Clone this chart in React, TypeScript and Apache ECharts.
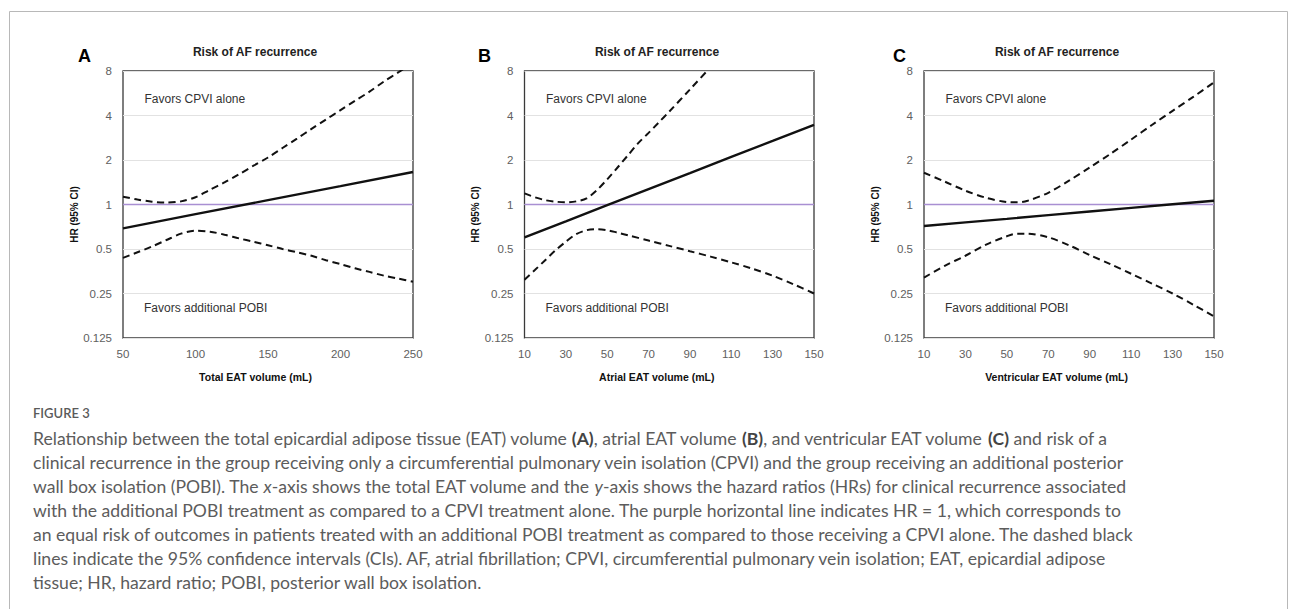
import React, { useEffect, useRef } from "react";
import * as echarts from "echarts";

// ---- Data ----
const panelTitles = ["Risk of AF recurrence", "Risk of AF recurrence", "Risk of AF recurrence"];
const panelLetters = ["A", "B", "C"];
const xAxisNames = ["Total EAT volume (mL)", "Atrial EAT volume (mL)", "Ventricular EAT volume (mL)"];
const yTicks = [0.125, 0.25, 0.5, 1, 2, 4, 8];

// Panel A: total EAT
const xTicksA = [50, 100, 150, 200, 250];
const hrA = [0.69, 0.86, 1.07, 1.33, 1.66];
const ciXA = [50, 60, 70, 80, 90, 100, 110, 120, 130, 140, 150, 160, 170, 180, 190, 200, 210, 220, 230, 240, 250];
const upperA = [1.13, 1.08, 1.045, 1.03, 1.05, 1.12, 1.26, 1.41, 1.6, 1.83, 2.08, 2.41, 2.79, 3.25, 3.76, 4.35, 5.03, 5.8, 6.8, 7.85, 9.1];
const lowerA = [0.435, 0.475, 0.52, 0.575, 0.635, 0.665, 0.655, 0.625, 0.59, 0.56, 0.53, 0.5, 0.475, 0.45, 0.42, 0.395, 0.37, 0.35, 0.33, 0.315, 0.3];

// Panel B: atrial EAT
const xTicksB = [10, 30, 50, 70, 90, 110, 130, 150];
const hrB = [0.6, 0.77, 0.99, 1.27, 1.63, 2.1, 2.69, 3.46];
const upperXB = [10, 15, 20, 25, 30, 35, 40, 45, 50, 55, 60, 65, 70, 75, 80, 90, 100, 110];
const upperB = [1.19, 1.12, 1.07, 1.045, 1.035, 1.05, 1.1, 1.25, 1.48, 1.78, 2.15, 2.6, 3.05, 3.6, 4.25, 6.0, 8.5, 12];
const lowerXB = [10, 15, 20, 25, 30, 35, 40, 45, 50, 55, 60, 70, 80, 90, 100, 110, 120, 130, 140, 150];
const lowerB = [0.31, 0.36, 0.42, 0.49, 0.56, 0.63, 0.67, 0.68, 0.67, 0.645, 0.62, 0.57, 0.525, 0.483, 0.444, 0.406, 0.369, 0.33, 0.289, 0.25];

// Panel C: ventricular EAT
const xTicksC = [10, 30, 50, 70, 90, 110, 130, 150];
const hrC = [0.715, 0.757, 0.8, 0.847, 0.896, 0.948, 1.003, 1.06];
const ciXC = [10, 20, 30, 40, 50, 55, 60, 70, 80, 90, 100, 110, 120, 130, 140, 150];
const upperC = [1.64, 1.43, 1.24, 1.11, 1.04, 1.035, 1.06, 1.2, 1.45, 1.78, 2.2, 2.75, 3.45, 4.3, 5.35, 6.7];
const lowerC = [0.32, 0.385, 0.45, 0.535, 0.61, 0.635, 0.635, 0.6, 0.53, 0.455, 0.395, 0.34, 0.292, 0.25, 0.21, 0.175];

const referenceHR = 1;

const captionHeading = "FIGURE 3";
const captionLines = [
  "Relationship between the total epicardial adipose tissue (EAT) volume {b|(A)}, atrial EAT volume {b|(B)}, and ventricular EAT volume {b|(C)} and risk of a",
  "clinical recurrence in the group receiving only a circumferential pulmonary vein isolation (CPVI) and the group receiving an additional posterior",
  "wall box isolation (POBI). The {i|x}-axis shows the total EAT volume and the {i|y}-axis shows the hazard ratios (HRs) for clinical recurrence associated",
  "with the additional POBI treatment as compared to a CPVI treatment alone. The purple horizontal line indicates HR = 1, which corresponds to",
  "an equal risk of outcomes in patients treated with an additional POBI treatment as compared to those receiving a CPVI alone. The dashed black",
  "lines indicate the 95% confidence intervals (CIs). AF, atrial fibrillation; CPVI, circumferential pulmonary vein isolation; EAT, epicardial adipose",
  "tissue; HR, hazard ratio; POBI, posterior wall box isolation.",
];

const zip = (xs: number[], ys: number[]) => xs.map((x, i) => [x, ys[i]]);

const CHART_FONT = "'Liberation Sans', Arial, sans-serif";
const CAPTION_FONT = "Lato, 'Open Sans', sans-serif";
const CAPTION_SIZE = 17.6;

export default function App() {
  const ref = useRef<HTMLDivElement>(null);

  useEffect(() => {
    if (!ref.current) return;
    const chart = echarts.init(ref.current, undefined, { renderer: "svg" });

    const grids = [
      { left: 123, top: 71, width: 290, height: 267 },
      { left: 524.5, top: 71, width: 289.5, height: 267 },
      { left: 924, top: 71, width: 290, height: 267 },
    ];
    const xRanges = [
      { min: 50, max: 250, ticks: xTicksA },
      { min: 10, max: 150, ticks: xTicksB },
      { min: 10, max: 150, ticks: xTicksC },
    ];

    const panels = [
      { hr: zip(xTicksA, hrA), up: zip(ciXA, upperA), lo: zip(ciXA, lowerA) },
      { hr: zip(xTicksB, hrB), up: zip(upperXB, upperB), lo: zip(lowerXB, lowerB) },
      { hr: zip(xTicksC, hrC), up: zip(ciXC, upperC), lo: zip(ciXC, lowerC) },
    ];

    const fmt = (v: number) => String(Number(Number(v).toPrecision(6)));

    const series: any[] = [];
    panels.forEach((p, i) => {
      const r = xRanges[i];
      series.push({
        type: "line", xAxisIndex: i, yAxisIndex: i, showSymbol: false, silent: true,
        data: [[r.min, referenceHR], [r.max, referenceHR]],
        lineStyle: { color: "#a98fd2", width: 1.5 },
      });
      series.push({
        type: "line", xAxisIndex: i, yAxisIndex: i, showSymbol: false, silent: true, smooth: 0.3,
        data: p.up, lineStyle: { color: "#111", width: 2, type: [7, 4.5] },
      });
      series.push({
        type: "line", xAxisIndex: i, yAxisIndex: i, showSymbol: false, silent: true, smooth: 0.3,
        data: p.lo, lineStyle: { color: "#111", width: 2, type: [7, 4.5] },
      });
      series.push({
        type: "line", xAxisIndex: i, yAxisIndex: i, showSymbol: false, silent: true,
        data: p.hr, lineStyle: { color: "#111", width: 2.4 },
      });
    });

    const graphic: any[] = [
      {
        type: "rect", silent: true,
        shape: { x: 9.5, y: 11.5, width: 1278, height: 640 },
        style: { fill: "none", stroke: "#b8b8b8", lineWidth: 1 },
      },
    ];
    const titleCenters = [255, 657, 1057];
    const letterX = [78, 478, 893];
    grids.forEach((g, i) => {
      graphic.push({
        type: "text", x: letterX[i], y: 56, silent: true,
        style: { text: panelLetters[i], font: `bold 18px ${CHART_FONT}`, fill: "#000", textAlign: "left", textVerticalAlign: "middle" },
      });
      graphic.push({
        type: "text", x: titleCenters[i], y: 52, silent: true,
        style: { text: panelTitles[i], font: `bold 12px ${CHART_FONT}`, fill: "#222", textAlign: "center", textVerticalAlign: "middle" },
      });
      graphic.push({
        type: "text", x: g.left + 21.5, y: 99, silent: true,
        style: { text: "Favors CPVI alone", font: `12px ${CHART_FONT}`, fill: "#333", textAlign: "left", textVerticalAlign: "middle" },
      });
      graphic.push({
        type: "text", x: g.left + 21, y: 308, silent: true,
        style: { text: "Favors additional POBI", font: `12px ${CHART_FONT}`, fill: "#333", textAlign: "left", textVerticalAlign: "middle" },
      });
    });

    graphic.push({
      type: "text", x: 33, y: 413, silent: true,
      style: { text: captionHeading, font: `600 13px ${CAPTION_FONT}`, fill: "#5a5a5a", textAlign: "left", textVerticalAlign: "middle" },
    });
    captionLines.forEach((line, k) => {
      graphic.push({
        type: "text", x: 33, y: 438 + k * 24, silent: true,
        style: {
          text: line,
          font: `${CAPTION_SIZE}px ${CAPTION_FONT}`,
          fill: "#5c5c5c",
          textAlign: "left",
          textVerticalAlign: "middle",
          rich: {
            b: { fontWeight: "bold", fontSize: CAPTION_SIZE, fontFamily: CAPTION_FONT, fill: "#444" },
            i: { fontStyle: "italic", fontSize: CAPTION_SIZE, fontFamily: CAPTION_FONT, fill: "#5c5c5c" },
          },
        },
      });
    });

    chart.setOption({
      animation: false,
      backgroundColor: "#fff",
      grid: grids.map((g) => ({ ...g, show: true, borderColor: "#3a3a3a", borderWidth: 1.3, backgroundColor: "transparent" })),
      xAxis: xRanges.map((r, i) => ({
        type: "value",
        gridIndex: i,
        min: r.min,
        max: r.max,
        name: xAxisNames[i],
        nameLocation: "middle",
        nameGap: 33,
        nameTextStyle: { fontFamily: CHART_FONT, fontSize: 10.5, fontWeight: "bold", color: "#111", padding: [0, 25, 0, 0] },
        axisLine: { show: false },
        axisTick: { show: false },
        splitLine: { show: false },
        axisLabel: {
          customValues: r.ticks,
          showMinLabel: true,
          showMaxLabel: true,
          margin: 10,
          fontFamily: CHART_FONT,
          fontSize: 11.5,
          color: "#606060",
        },
      })),
      yAxis: grids.map((_, i) => ({
        type: "log",
        logBase: 2,
        gridIndex: i,
        min: yTicks[0],
        max: yTicks[yTicks.length - 1],
        splitNumber: 6,
        name: "HR (95% CI)",
        nameLocation: "middle",
        nameGap: 38,
        nameRotate: 90,
        nameTextStyle: { fontFamily: CHART_FONT, fontSize: 10, fontWeight: "bold", color: "#111", padding: [0, 20, 0, 0] },
        axisLine: { show: false },
        axisTick: { show: false },
        splitLine: { show: true, lineStyle: { color: "#e2e2e2", width: 1 } },
        axisLabel: {
          formatter: (v: number) => fmt(v),
          margin: 11,
          fontFamily: CHART_FONT,
          fontSize: 11.5,
          color: "#606060",
        },
      })),
      series,
      graphic,
    });

    return () => chart.dispose();
  }, []);

  return (
    <div
      ref={ref}
      style={{ position: "fixed", left: 0, top: 0, width: 1295, height: 609, background: "#fff" }}
    />
  );
}
